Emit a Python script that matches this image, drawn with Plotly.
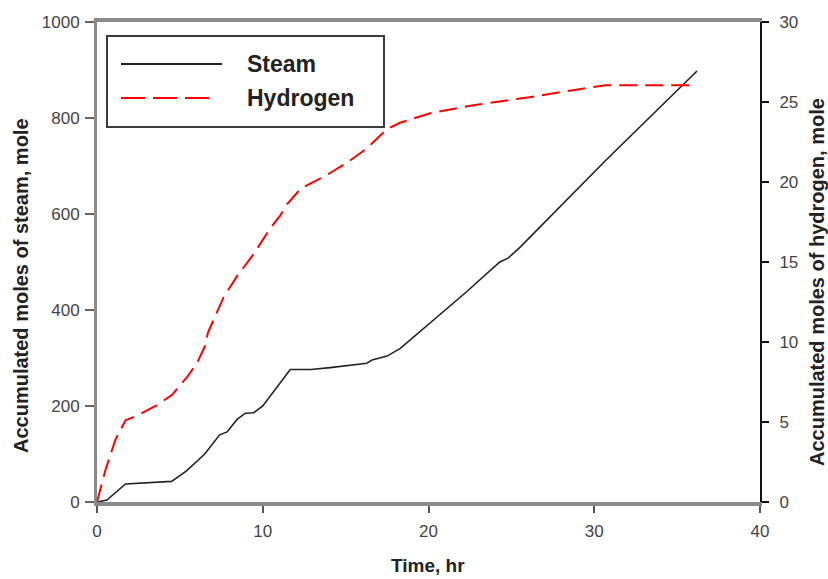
import plotly.graph_objects as go

# Accumulated steam injected (left axis)
steam_time = [0, 0.6, 1.72, 4.5, 5.4, 6.5, 7.4, 7.85, 8.45, 8.95, 9.45, 10.0,
              11.66, 12.9, 14.07, 16.28, 16.6, 17.5, 18.3, 20.3, 22.3, 24.3,
              24.8, 25.5, 30.7, 36.2]
steam_moles = [0, 4, 37.5, 43, 65, 100, 140, 146, 172, 185, 186, 200,
               276, 276, 280, 289, 296, 304, 320, 379, 438, 500,
               508, 530, 712, 898]

# Accumulated hydrogen produced (right axis)
h2_time = [0, 0.51, 1.11, 1.72, 2.42, 3.63, 4.53, 5.43, 6.04, 6.5, 6.7, 7.64,
           8.44, 9.45, 10.45, 11.05, 11.46, 12.3, 13.8, 15.07, 16.28, 17.48,
           18.28, 20.1, 22.7, 26.1, 29.1, 30.7, 36.1]
h2_moles = [0, 2.0, 3.9, 5.1, 5.4, 6.06, 6.7, 7.8, 8.7, 9.7, 10.6, 12.8,
            14.1, 15.5, 17.1, 17.9, 18.6, 19.6, 20.4, 21.2, 22.1, 23.3,
            23.7, 24.3, 24.8, 25.3, 25.8, 26.05, 26.05]

x_ticks = [0, 10, 20, 30, 40]
left_ticks = [0, 200, 400, 600, 800, 1000]
right_ticks = [0, 5, 10, 15, 20, 25, 30]

FONT = "Liberation Sans, Arial, sans-serif"
STEAM_COLOR = "#222222"
H2_COLOR = "#ff0000"
H2_DASH = "18px,8px"

fig = go.Figure()
fig.add_trace(go.Scatter(x=steam_time, y=steam_moles, name="Steam", mode="lines",
                         line=dict(color=STEAM_COLOR, width=1.6), yaxis="y"))
fig.add_trace(go.Scatter(x=h2_time, y=h2_moles, name="Hydrogen", mode="lines",
                         line=dict(color=H2_COLOR, width=2, dash=H2_DASH), yaxis="y2"))

# Margins put the plot area at x 97..760, y 22..502
L, R, T, B = 97, 68, 22, 77
W, H = 828, 579
pw, ph = W - L - R, H - T - B


def px_x(p):
    return (p - L) / pw


def px_y(p):
    return (H - B - p) / ph


# Legend box drawn by hand so the sample lines can be long
shapes = [
    dict(type="rect", xref="paper", yref="paper",
         x0=px_x(107), x1=px_x(384), y0=px_y(127), y1=px_y(36),
         line=dict(color="#3c3c3c", width=2), fillcolor="white", layer="above"),
    dict(type="line", xref="paper", yref="paper",
         x0=px_x(121), x1=px_x(222), y0=px_y(64), y1=px_y(64),
         line=dict(color=STEAM_COLOR, width=2), layer="above"),
    dict(type="line", xref="paper", yref="paper",
         x0=px_x(121), x1=px_x(214), y0=px_y(98), y1=px_y(98),
         line=dict(color=H2_COLOR, width=2, dash="24px,8px"), layer="above"),
]

legend_font = dict(family=FONT, size=23, color="#222")
title_font = dict(family=FONT, size=20, color="#222")

annotations = [
    dict(text="<b>Steam</b>", xref="paper", yref="paper", x=px_x(245), y=px_y(64),
         xanchor="left", yanchor="middle", showarrow=False, font=legend_font),
    dict(text="<b>Hydrogen</b>", xref="paper", yref="paper", x=px_x(245), y=px_y(98),
         xanchor="left", yanchor="middle", showarrow=False, font=legend_font),
    # Axis titles
    dict(text="<b>Time, hr</b>", xref="paper", yref="paper", x=px_x(428), y=px_y(565),
         xanchor="center", yanchor="middle", showarrow=False,
         font=dict(family=FONT, size=19, color="#222")),
    dict(text="<b>Accumulated moles of steam, mole</b>", xref="paper", yref="paper",
         x=px_x(21), y=px_y(286), xanchor="center", yanchor="middle",
         textangle=-90, showarrow=False, font=title_font),
    dict(text="<b>Accumulated moles of hydrogen, mole</b>", xref="paper", yref="paper",
         x=px_x(817), y=px_y(282), xanchor="center", yanchor="middle",
         textangle=-90, showarrow=False, font=title_font),
]

tickfont = dict(family=FONT, size=17, color="#444")

fig.update_layout(
    width=W, height=H,
    margin=dict(l=L, r=R, t=T, b=B, pad=0),
    paper_bgcolor="white", plot_bgcolor="white",
    showlegend=False,
    shapes=shapes, annotations=annotations,
    xaxis=dict(
        range=[0, 40], tickvals=x_ticks, ticks="outside", ticklen=7, tickwidth=2,
        tickcolor="#555", showline=True, linewidth=4, linecolor="#8a8a8a",
        mirror=True, showgrid=False, zeroline=False, tickfont=tickfont,
        ticklabelstandoff=4,
    ),
    yaxis=dict(
        range=[0, 1000], tickvals=left_ticks, ticks="outside", ticklen=9, tickwidth=2,
        tickcolor="#666", showline=True, linewidth=3, linecolor="#8a8a8a",
        showgrid=False, zeroline=False, tickfont=tickfont, ticklabelstandoff=2,
    ),
    yaxis2=dict(
        range=[0, 30], tickvals=right_ticks, ticks="outside", ticklen=7, tickwidth=2,
        tickcolor="#111", showline=True, linewidth=2, linecolor="#111",
        overlaying="y", side="right", showgrid=False, zeroline=False,
        tickfont=tickfont, ticklabelstandoff=7,
    ),
)

fig.write_html("out.html")
